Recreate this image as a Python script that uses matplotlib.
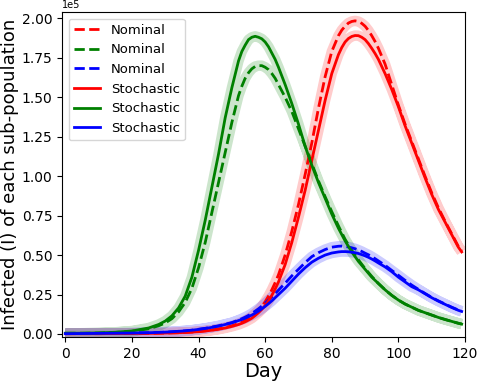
import numpy as np
import matplotlib
matplotlib.use("Agg")
import matplotlib.pyplot as plt

# values, in units of 1e5 people
days = [0, 5, 10, 15, 20, 25, 28, 30, 32, 34, 36, 38, 40, 42, 44, 46, 48, 50,
        52, 53, 54, 55, 56, 57, 58, 59, 60, 61, 62, 63, 64,
        66, 68, 70, 72, 74, 76, 78, 80,
        82, 83, 84, 85, 86, 87, 88, 89, 90, 91, 92, 93, 94,
        96, 98, 100, 102, 104, 106, 108, 110, 112, 114, 116, 118, 119]

red_nominal = [0.002, 0.002, 0.002, 0.003, 0.003, 0.004, 0.005, 0.006, 0.007, 0.008, 0.010, 0.012, 0.015, 0.020, 0.025, 0.032, 0.041, 0.052,
               0.066, 0.075, 0.085, 0.098, 0.112, 0.130, 0.150, 0.175, 0.205, 0.240, 0.280, 0.325, 0.375,
               0.500, 0.650, 0.820, 1.010, 1.210, 1.430, 1.630, 1.790,
               1.890, 1.925, 1.950, 1.970, 1.980, 1.984, 1.980, 1.968, 1.950, 1.923, 1.890, 1.853, 1.810,
               1.710, 1.580, 1.450, 1.330, 1.220, 1.110, 1.000, 0.895, 0.800, 0.715, 0.635, 0.555, 0.525]
green_nominal = [0.005, 0.005, 0.006, 0.010, 0.017, 0.033, 0.052, 0.070, 0.097, 0.140, 0.200, 0.290, 0.420, 0.580, 0.770, 0.960, 1.150, 1.340,
                 1.510, 1.570, 1.620, 1.655, 1.680, 1.695, 1.700, 1.700, 1.690, 1.675, 1.650, 1.620, 1.580,
                 1.500, 1.410, 1.300, 1.190, 1.080, 0.970, 0.870, 0.775,
                 0.685, 0.642, 0.600, 0.565, 0.530, 0.500, 0.470, 0.442, 0.415, 0.390, 0.365, 0.342, 0.320,
                 0.280, 0.245, 0.215, 0.190, 0.170, 0.150, 0.135, 0.120, 0.105, 0.092, 0.080, 0.068, 0.063]
blue_nominal = [0.002, 0.003, 0.004, 0.005, 0.006, 0.008, 0.010, 0.012, 0.014, 0.017, 0.020, 0.024, 0.030, 0.036, 0.044, 0.052, 0.062, 0.072,
                0.088, 0.097, 0.107, 0.118, 0.130, 0.145, 0.160, 0.177, 0.195, 0.215, 0.235, 0.256, 0.278,
                0.322, 0.368, 0.410, 0.452, 0.490, 0.515, 0.535, 0.550,
                0.556, 0.557, 0.555, 0.551, 0.546, 0.540, 0.532, 0.523, 0.512, 0.502, 0.490, 0.477, 0.463,
                0.435, 0.403, 0.372, 0.340, 0.310, 0.283, 0.257, 0.232, 0.210, 0.190, 0.170, 0.152, 0.145]

red_stochastic = [0.002, 0.002, 0.002, 0.003, 0.003, 0.004, 0.005, 0.006, 0.007, 0.008, 0.010, 0.012, 0.015, 0.019, 0.024, 0.030, 0.038, 0.048,
                  0.060, 0.068, 0.077, 0.088, 0.100, 0.117, 0.135, 0.156, 0.180, 0.210, 0.245, 0.285, 0.330,
                  0.440, 0.580, 0.740, 0.910, 1.100, 1.290, 1.480, 1.650,
                  1.770, 1.815, 1.850, 1.872, 1.885, 1.891, 1.890, 1.880, 1.865, 1.840, 1.810, 1.777, 1.740,
                  1.650, 1.550, 1.440, 1.320, 1.210, 1.100, 0.990, 0.885, 0.790, 0.710, 0.630, 0.550, 0.520]
green_stochastic = [0.005, 0.005, 0.007, 0.011, 0.019, 0.038, 0.060, 0.082, 0.115, 0.165, 0.240, 0.360, 0.530, 0.720, 0.930, 1.140, 1.370, 1.560,
                    1.730, 1.790, 1.830, 1.865, 1.880, 1.886, 1.880, 1.870, 1.850, 1.820, 1.780, 1.740, 1.690,
                    1.580, 1.460, 1.330, 1.190, 1.070, 0.960, 0.860, 0.760,
                    0.670, 0.630, 0.590, 0.555, 0.520, 0.490, 0.460, 0.435, 0.410, 0.385, 0.360, 0.340, 0.320,
                    0.280, 0.245, 0.215, 0.190, 0.170, 0.150, 0.135, 0.120, 0.105, 0.092, 0.080, 0.068, 0.063]
blue_stochastic = [0.002, 0.003, 0.004, 0.005, 0.006, 0.008, 0.010, 0.012, 0.014, 0.017, 0.020, 0.024, 0.029, 0.035, 0.042, 0.050, 0.060, 0.071,
                   0.085, 0.092, 0.100, 0.110, 0.120, 0.132, 0.145, 0.160, 0.175, 0.192, 0.210, 0.230, 0.250,
                   0.290, 0.335, 0.380, 0.420, 0.455, 0.480, 0.500, 0.513,
                   0.520, 0.522, 0.522, 0.521, 0.518, 0.515, 0.510, 0.503, 0.495, 0.486, 0.475, 0.463, 0.450,
                   0.425, 0.395, 0.360, 0.330, 0.300, 0.280, 0.255, 0.230, 0.208, 0.188, 0.168, 0.150, 0.143]

colors = ['red', 'green', 'blue']
nominal = [red_nominal, green_nominal, blue_nominal]
stochastic = [red_stochastic, green_stochastic, blue_stochastic]
scale = 1e5

fig = plt.figure(figsize=(4.78, 3.81), dpi=100)
ax = fig.add_axes([0.1297, 0.1155, 0.8431, 0.853])

t = np.array(days, dtype=float)

# light band round each pair of curves (one path so overlaps don't darken)
for c, nom, sto in zip(colors, nominal, stochastic):
    bx = np.concatenate([t, [np.nan], t])
    by = np.concatenate([np.array(nom) * scale, [np.nan], np.array(sto) * scale])
    ax.plot(bx, by, color=c, alpha=0.2, linewidth=7.5, solid_capstyle='butt',
            solid_joinstyle='round', zorder=1)

for c, nom in zip(colors, nominal):
    ax.plot(t, np.array(nom) * scale, color=c, linestyle='--', linewidth=2, label='Nominal', zorder=3)
for c, sto in zip(colors, stochastic):
    ax.plot(t, np.array(sto) * scale, color=c, linestyle='-', linewidth=2, label='Stochastic', zorder=3)

ax.set_xlim(-1, 120)
ax.set_ylim(-0.019e5, 2.04e5)
ax.set_xticks([0, 20, 40, 60, 80, 100, 120])
ax.set_yticks(np.arange(0, 2.01e5, 0.25e5))
ax.ticklabel_format(axis='y', style='sci', scilimits=(0, 0))
ax.tick_params(labelsize=10)
ax.yaxis.get_offset_text().set_fontsize(7)

ax.set_xlabel('Day', fontsize=14, labelpad=1)
ax.set_ylabel('Infected (I) of each sub-population', fontsize=13, labelpad=2)
ax.legend(loc='upper left', fontsize=9.5)

fig.savefig('out.png', dpi=100)
